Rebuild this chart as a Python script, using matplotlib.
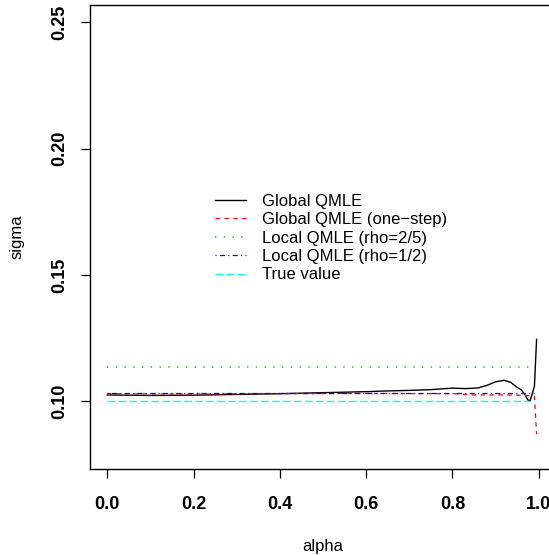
import matplotlib
matplotlib.use("Agg")
import matplotlib.pyplot as plt

plt.rcParams['font.family'] = ['Liberation Sans', 'DejaVu Sans']
plt.rcParams['lines.scale_dashes'] = False

# Global QMLE (solid black)
alpha_global = [0.0, 0.1, 0.2, 0.3, 0.4, 0.5, 0.6, 0.65, 0.7, 0.75, 0.8, 0.83, 0.86,
                0.88, 0.9, 0.92, 0.935, 0.95, 0.96, 0.97, 0.975, 0.98, 0.985, 0.99, 0.995]
sigma_global = [0.1025, 0.1023, 0.1024, 0.1027, 0.1030, 0.1034, 0.1038, 0.1041, 0.1043,
                0.1046, 0.1052, 0.1050, 0.1053, 0.1063, 0.1077, 0.1083, 0.1075, 0.1055,
                0.1045, 0.1020, 0.1005, 0.1002, 0.1030, 0.1060, 0.1245]

# Global QMLE (one-step) (red dashed)
alpha_onestep = [0.0, 0.2, 0.4, 0.6, 0.8, 0.85, 0.9, 0.95, 0.98, 0.99, 0.995]
sigma_onestep = [0.1030, 0.1029, 0.1030, 0.1031, 0.1030, 0.1025, 0.1025, 0.1024,
                 0.1022, 0.1020, 0.0870]

# Local QMLE (rho=2/5) (green dotted)
alpha_local25 = [0.0, 0.98]
sigma_local25 = [0.1135, 0.1135]

# Local QMLE (rho=1/2) (blue dot-dash)
alpha_local12 = [0.0, 0.99]
sigma_local12 = [0.1034, 0.1034]

# True value (cyan long dash)
alpha_true = [0.0, 0.98]
sigma_true = [0.100, 0.100]

labels = ["Global QMLE", "Global QMLE (one\u2212step)", "Local QMLE (rho=2/5)",
          "Local QMLE (rho=1/2)", "True value"]

xticks = [0.0, 0.2, 0.4, 0.6, 0.8, 1.0]
yticks = [0.10, 0.15, 0.20, 0.25]

fig = plt.figure(figsize=(5.49, 5.55), dpi=100)
ax = fig.add_axes([90/549, 1-469/555, 466/549, 464/555])

ax.plot(alpha_global, sigma_global, color='black', lw=1.0, label=labels[0])
ax.plot(alpha_onestep, sigma_onestep, color='red', lw=0.9,
        linestyle=(0, (3.2, 3.2)), label=labels[1])
ax.plot(alpha_local25, sigma_local25, color='#22cc22', lw=1.2,
        linestyle=(0, (1.0, 5.3)), label=labels[2])
ax.plot(alpha_local12, sigma_local12, color='blue', lw=0.9,
        linestyle=(0, (0.8, 2.4, 3.6, 2.4)), label=labels[3])
ax.plot(alpha_true, sigma_true, color='cyan', lw=1.0,
        linestyle=(0, (5.5, 2.4)), label=labels[4])

ax.set_xlim(-0.04, 1.04)
ax.set_ylim(0.08 - 0.04*0.17, 0.25 + 0.04*0.17)
ax.set_xticks(xticks)
ax.set_xticklabels([f"{v:.1f}" for v in xticks], fontweight='bold', fontsize=13)
ax.set_yticks(yticks)
ax.set_yticklabels([f"{v:.2f}" for v in yticks], fontweight='bold', fontsize=13,
                   rotation=90, va='center')
ax.tick_params(direction='out', length=6.5, width=0.9)
ax.tick_params(axis='x', pad=13)
ax.tick_params(axis='y', pad=9)
for s in ax.spines.values():
    s.set_linewidth(1.0)

ax.set_xlabel("alpha", fontsize=12, labelpad=18.5)
ax.set_ylabel("sigma", fontsize=12, labelpad=19)

leg = ax.legend(loc='upper left', bbox_to_anchor=(125/466, 1-(194-5)/464),
                frameon=False, fontsize=12, handlelength=1.85, handletextpad=0.95,
                labelspacing=0.2, borderpad=0, borderaxespad=0)

fig.savefig("out.png", dpi=100)
